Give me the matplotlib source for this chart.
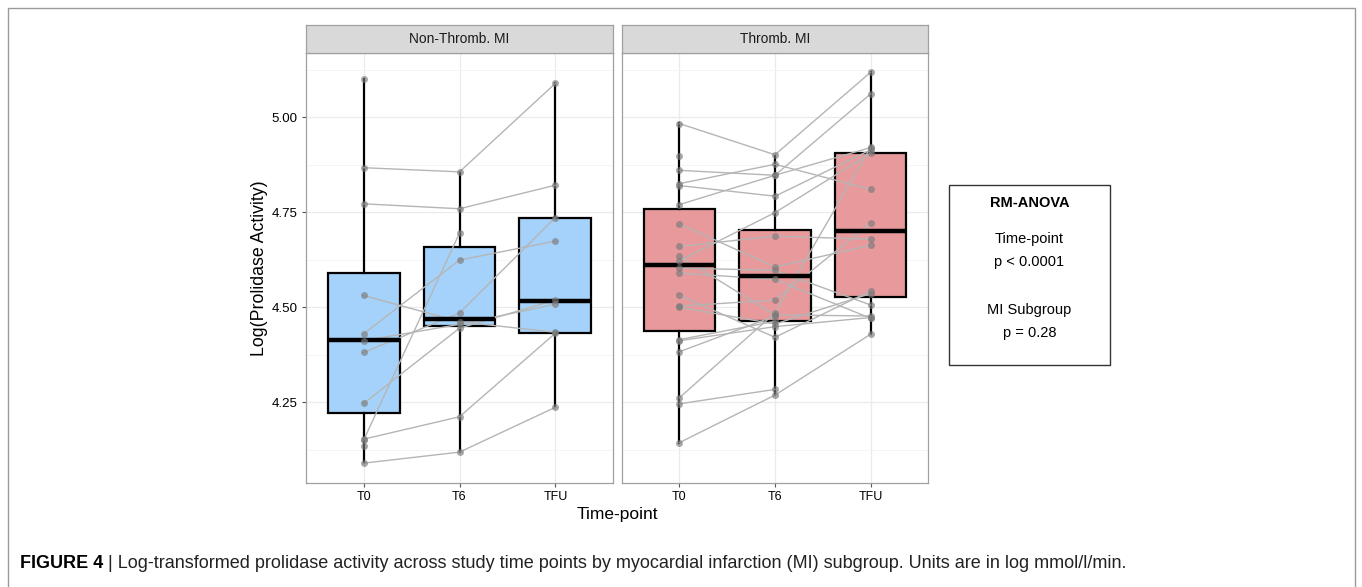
import numpy as np
import matplotlib
matplotlib.use("Agg")
import matplotlib.pyplot as plt
from matplotlib.patches import Rectangle

plt.rcParams['font.family'] = ['Liberation Sans', 'DejaVu Sans']

# Time points on the x axis
time_points = ['T0', 'T6', 'TFU']

# Non-thrombotic MI: one entry per patient (nan = no value at that time)
non_thromb_t0 = [4.867, 4.772, 4.531, 4.430, 4.412, 4.381, 4.247, 4.153, 4.150, 4.090, 5.101, 4.136]
non_thromb_t6 = [4.856, 4.759, 4.462, 4.624, 4.455, 4.485, 4.445, 4.212, 4.695, 4.119, np.nan, np.nan]
non_thromb_tfu = [5.089, 4.821, 4.434, 4.674, 4.508, 4.736, 4.519, 4.432, np.nan, 4.237, np.nan, np.nan]

# Thrombotic MI patients
thromb_t0 = [4.983, 4.897, 4.860, 4.825, 4.820, 4.770, 4.719, 4.660, 4.634, 4.622, 4.603,
             4.590, 4.531, 4.503, 4.500, 4.415, 4.412, 4.383, 4.262, 4.246, 4.144]
thromb_t6 = [4.901, np.nan, 4.847, 4.876, 4.792, 4.847, 4.606, 4.687, 4.480, 4.749, 4.597,
             4.573, 4.421, 4.519, 4.456, 4.463, 4.449, 4.477, 4.485, 4.284, 4.269]
thromb_tfu = [5.118, np.nan, 4.920, 4.810, 4.914, 5.061, 4.663, 4.679, 4.477, 4.905, 4.506,
              4.471, 4.543, 4.721, 4.536, np.nan, 4.473, np.nan, 4.921, np.nan, 4.429]

# Box statistics per time point (T0, T6, TFU)
non_thromb_q1 = [4.221, 4.450, 4.431]
non_thromb_med = [4.415, 4.468, 4.516]
non_thromb_q3 = [4.591, 4.659, 4.736]
non_thromb_lo = [4.090, 4.119, 4.237]
non_thromb_hi = [5.101, 4.856, 5.089]

thromb_q1 = [4.437, 4.463, 4.526]
thromb_med = [4.611, 4.582, 4.700]
thromb_q3 = [4.758, 4.702, 4.905]
thromb_lo = [4.144, 4.269, 4.429]
thromb_hi = [4.984, 4.899, 5.118]

panel_titles = ['Non-Thromb. MI', 'Thromb. MI']
y_ticks = [4.25, 4.50, 4.75, 5.00]

W, H = 1362, 587
fig = plt.figure(figsize=(W / 100, H / 100), dpi=100)

# outer frame of the figure page
fig.patches.append(Rectangle((8 / W, -0.05), 1347 / W, 1.05 - 8 / H, transform=fig.transFigure,
                             fill=False, edgecolor='#9a9a9a', lw=1.0))

panel_top, panel_bot = 52.7, 482.7
panels = [(306, 307), (622, 306)]

all_vals = [v for v in non_thromb_t0 + non_thromb_t6 + non_thromb_tfu
            + thromb_t0 + thromb_t6 + thromb_tfu if not np.isnan(v)]
lo, hi = min(all_vals), max(all_vals)
pad = (hi - lo) * 0.05

groups = [
    (non_thromb_t0, non_thromb_t6, non_thromb_tfu, non_thromb_q1, non_thromb_med,
     non_thromb_q3, non_thromb_lo, non_thromb_hi, '#A5D2FA'),
    (thromb_t0, thromb_t6, thromb_tfu, thromb_q1, thromb_med,
     thromb_q3, thromb_lo, thromb_hi, '#E7999B'),
]

x = np.arange(1, len(time_points) + 1)

for i, (px, pw) in enumerate(panels):
    t0, t6, tfu, q1, med, q3, wlo, whi, fill = groups[i]
    ax = fig.add_axes([px / W, 1 - panel_bot / H, pw / W, (panel_bot - panel_top) / H])

    # box plots
    stats = []
    for k in range(len(time_points)):
        stats.append({'med': med[k], 'q1': q1[k], 'q3': q3[k],
                      'whislo': wlo[k], 'whishi': whi[k], 'fliers': []})
    bp = ax.bxp(stats, positions=x, widths=0.75, patch_artist=True,
                showcaps=False, showfliers=False, manage_ticks=False,
                boxprops=dict(facecolor=fill, edgecolor='black', lw=1.6),
                medianprops=dict(color='black', lw=3.2, solid_capstyle='butt'),
                whiskerprops=dict(color='black', lw=1.6))
    for b in bp['boxes']:
        b.set_zorder(1)

    # each patient as a line across the time points
    values = np.array([t0, t6, tfu]).T
    for row in values:
        ax.plot(x, row, color='#b5b5b5', lw=1.0, zorder=2)
        ax.plot(x, row, 'o', color='#7a7a7a', alpha=0.65, ms=5, mec='none', zorder=3)

    ax.set_xlim(0.4, 3.6)
    ax.set_ylim(lo - pad, hi + pad)
    ax.set_xticks(x)
    ax.set_xticklabels(time_points, fontsize=9)
    ax.set_yticks(y_ticks)
    ax.set_yticks([4.125, 4.375, 4.625, 4.875, 5.125], minor=True)
    ax.grid(True, which='major', color='#ebebeb', lw=0.9, zorder=0)
    ax.grid(True, which='minor', axis='y', color='#f4f4f4', lw=0.6, zorder=0)
    ax.set_axisbelow(True)
    ax.tick_params(axis='both', which='major', length=3, color='#555555', width=0.8, pad=3)
    ax.tick_params(axis='y', which='minor', length=0)
    if i == 0:
        ax.set_yticklabels(['%.2f' % v for v in y_ticks], fontsize=9.6)
    else:
        ax.set_yticklabels([])
        ax.tick_params(axis='y', length=0)
    for s in ax.spines.values():
        s.set_color('#a0a0a0')
        s.set_linewidth(0.9)

    # facet strip
    sax = fig.add_axes([px / W, 1 - panel_top / H, pw / W, (panel_top - 25) / H])
    sax.set_facecolor('#d9d9d9')
    sax.set_xticks([])
    sax.set_yticks([])
    for s in sax.spines.values():
        s.set_color('#a0a0a0')
        s.set_linewidth(0.9)
    sax.text(0.5, 0.5, panel_titles[i], ha='center', va='center', fontsize=9.9,
             color='#1a1a1a', transform=sax.transAxes)

# shared axis titles
fig.text(617 / W, 1 - 515 / H, 'Time-point', ha='center', va='center', fontsize=12.5)
fig.text(259 / W, 1 - 267.7 / H, 'Log(Prolidase Activity)', ha='center', va='center',
         rotation=90, fontsize=12.8)

# RM-ANOVA box
fig.patches.append(Rectangle((949 / W, 1 - 364.5 / H), 161 / W, 179.5 / H,
                             transform=fig.transFigure, fill=False, edgecolor='#333333', lw=1.0))
cx = 1029.5 / W
fig.text(cx, 1 - 203.3 / H, 'RM-ANOVA', ha='center', va='center', fontsize=10.5, fontweight='bold')
fig.text(cx, 1 - 239 / H, 'Time-point', ha='center', va='center', fontsize=10.5)
fig.text(cx, 1 - 261.7 / H, 'p < 0.0001', ha='center', va='center', fontsize=10.5)
fig.text(cx, 1 - 310 / H, 'MI Subgroup', ha='center', va='center', fontsize=10.5)
fig.text(cx, 1 - 333.3 / H, 'p = 0.28', ha='center', va='center', fontsize=10.5)

# figure caption
cap_font = ['Liberation Sans Narrow', 'Liberation Sans', 'DejaVu Sans']
head = fig.text(20 / W, 1 - 563 / H, 'FIGURE 4', ha='left', va='center', fontsize=13,
                fontweight='bold', family=cap_font)
fig.canvas.draw()
bb = head.get_window_extent()
fig.text(bb.x1 / W, 1 - 563 / H,
         ' | Log-transformed prolidase activity across study time points by myocardial '
         'infarction (MI) subgroup. Units are in log mmol/l/min.',
         ha='left', va='center', fontsize=13, family=cap_font, color='#222222')

plt.savefig('out.png', dpi=100)
